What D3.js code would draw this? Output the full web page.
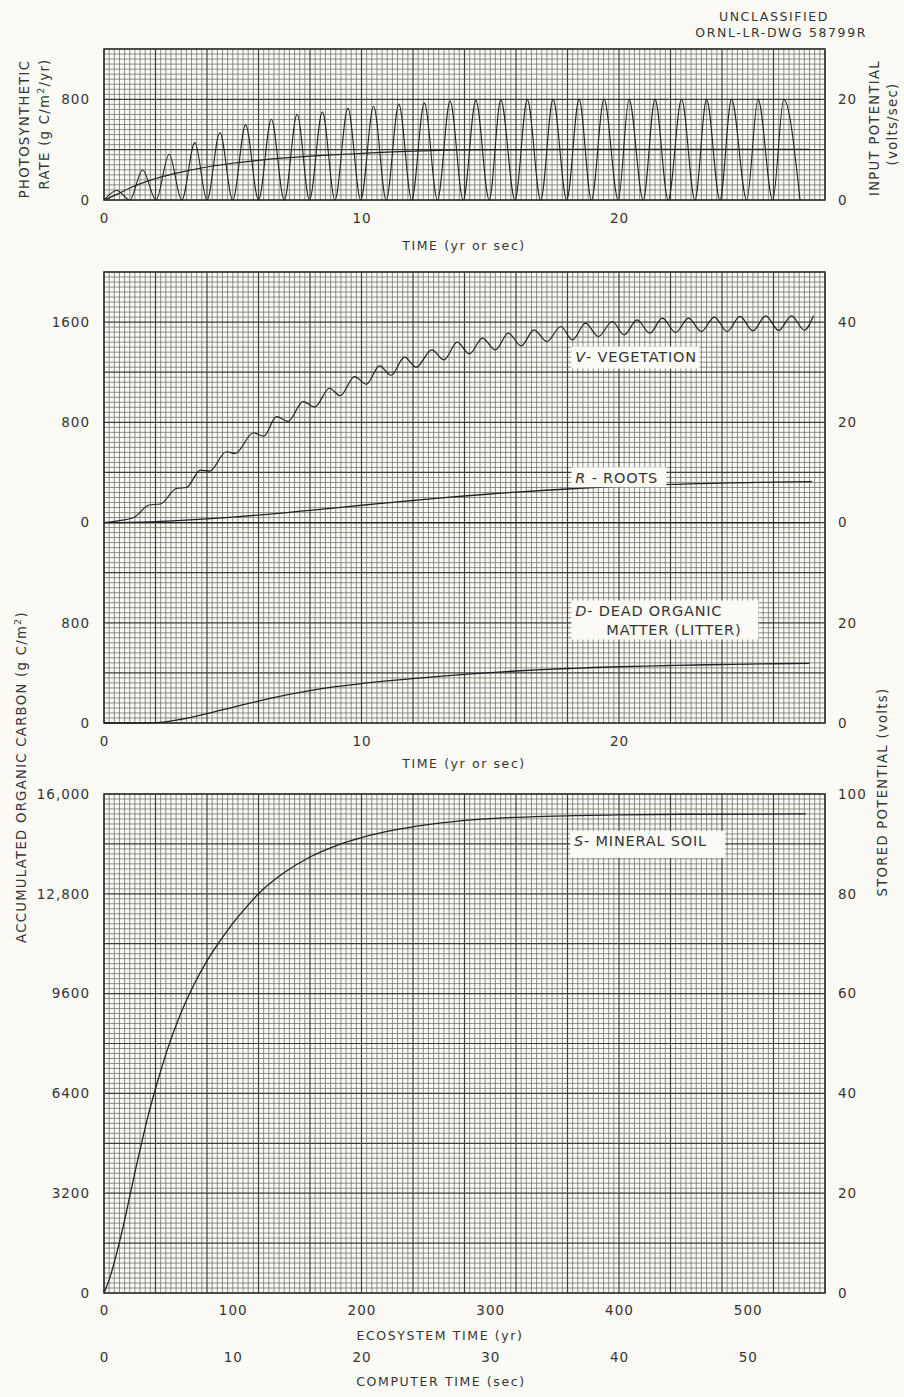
<!DOCTYPE html>
<html>
<head>
<meta charset="utf-8">
<script src="https://cdn.jsdelivr.net/npm/d3@7"></script>
<style>
  body { margin: 0; background: #fbfaf4; }
  svg text { font-family: "DejaVu Sans", sans-serif; fill: #353535; }
  .tick-labels text { font-size: 13.5px; letter-spacing: 1px; }
  .title { font-size: 12.5px; letter-spacing: 1.6px; }
  .side { font-size: 13.2px; letter-spacing: 1.3px; }
  .tag { font-size: 14.5px; letter-spacing: 0.8px; }
</style>
</head>
<body>
<svg width="904" height="1397"></svg>
<script>
// ---- data ----

// photosynthetic rate (g C/m2/yr): one peak and one trough each year
const photoPeakYear = [0.5, 1.5, 2.53, 3.53, 4.5, 5.5, 6.5, 7.5, 8.48, 9.47, 10.47, 11.45, 12.44, 13.44,
  14.44, 15.41, 16.44, 17.44, 18.45, 19.42, 20.39, 21.4, 22.43, 23.4, 24.37, 25.4, 26.4];
const photoPeakRate = [76, 239, 364, 456, 536, 597, 642, 682, 700, 730, 745, 762, 772, 786,
  792, 796, 798, 800, 800, 801, 800, 800, 801, 800, 800, 800, 800];
const photoTroughYear = [0, 1, 2.02, 3.02, 4, 5, 6, 7, 7.98, 8.97, 9.97, 10.96, 11.95, 12.95, 13.95,
  14.96, 15.96, 16.96, 17.97, 18.93, 19.97, 20.94, 21.91, 22.95, 23.92, 24.96, 25.97, 27.03];

// smooth (mean) input trace in the top panel
const meanYear = [0, 0.5, 1, 2, 3, 4, 5, 6, 7, 8, 9, 10, 11, 12, 13, 14, 16, 20, 27.4];
const meanRate = [0, 45, 95, 170, 222, 262, 292, 315, 334, 348, 360, 370, 380, 388, 395, 398, 401, 402, 402];

// V - vegetation (g C/m2)
const vegYear = [0, 0.6, 1.2, 1.75, 2.2, 2.8, 3.2, 3.75, 4.1, 4.75, 5.1, 5.8, 6.2, 6.7, 7.15, 7.73, 8.18,
  8.76, 9.17, 9.73, 10.19, 10.7, 11.15, 11.67, 12.12, 12.73, 13.2, 13.72, 14.19, 14.7, 15.2, 15.7,
  16.2, 16.7, 17.2, 17.74, 18.19, 18.7, 19.2, 19.74, 20.2, 20.7, 21.2, 21.68, 22.2, 22.7, 23.2,
  23.7, 24.2, 24.7, 25.2, 25.7, 26.2, 26.7, 27.2, 27.55];
const vegCarbon = [0, 15, 45, 140, 148, 272, 280, 418, 410, 565, 552, 717, 690, 845, 808, 965, 922,
  1072, 1012, 1165, 1104, 1250, 1176, 1320, 1240, 1378, 1298, 1440, 1346, 1472, 1378, 1512,
  1410, 1538, 1445, 1565, 1458, 1592, 1485, 1605, 1498, 1618, 1512, 1632, 1517, 1632, 1525,
  1640, 1525, 1645, 1530, 1650, 1533, 1650, 1535, 1650];

// R - roots
const rootYear = [0, 1, 2, 3, 4, 5, 6, 7, 8, 9, 10, 11, 12, 13, 14, 15, 16, 17, 18, 19, 20, 21, 22, 23, 24, 25, 26, 27.5];
const rootCarbon = [0, 2, 8, 18, 30, 44, 60, 78, 98, 118, 138, 157, 176, 195, 212, 228, 243, 256, 268, 279,
  289, 297, 304, 310, 315, 319, 322, 326];

// D - dead organic matter (litter)
const litterYear = [0, 1, 2, 3, 4, 5, 6, 7, 8, 9, 10, 11, 12, 13, 14, 15, 16, 17, 18, 19, 20, 21, 22, 23, 24, 25, 26, 27.4];
const litterCarbon = [0, 0, 3, 30, 75, 125, 175, 220, 258, 290, 315, 336, 355, 372, 388, 402, 415, 426, 435,
  443, 449, 454, 459, 463, 467, 470, 473, 476];

// S - mineral soil, ecosystem years
const soilYear = [0, 5, 10, 15, 20, 25, 30, 35, 40, 45, 50, 60, 70, 80, 90, 100, 110, 120, 140, 160, 180,
  200, 225, 250, 275, 300, 350, 400, 450, 545];
const soilCarbon = [0, 550, 1300, 2150, 3100, 4050, 4950, 5800, 6550, 7250, 7900, 9000, 9900, 10650, 11280,
  11850, 12350, 12800, 13480, 13980, 14340, 14600, 14840, 15010, 15130, 15210, 15290, 15330, 15350, 15360];

// zero reference traced in the middle panel
const zeroLineYear = [0, 27.4];

// tick labels
const photoTicks = [0, 800];
const photoVoltTicks = [0, 20];
const vegTicks = [0, 800, 1600];
const vegVoltTicks = [0, 20, 40];
const litterTicks = [0, 800];
const litterVoltTicks = [0, 20];
const timeTicks = [0, 10, 20];
const soilTicks = [0, 3200, 6400, 9600, 12800, 16000];
const soilVoltTicks = [0, 20, 40, 60, 80, 100];
const ecoYearTicks = [0, 100, 200, 300, 400, 500];
const computerSecTicks = [0, 10, 20, 30, 40, 50];

// ---- drawing ----
let svg = d3.select("svg");
const paper = "#fbfaf4";
const ink = "#222";

svg.append("rect").attr("width", 904).attr("height", 1397).attr("fill", paper);

// scales
let xTime = d3.scaleLinear().domain([0, 28]).range([104, 825]);
let yPhoto = d3.scaleLinear().domain([0, 1200]).range([200, 49]);
let yPhotoVolt = d3.scaleLinear().domain([0, 30]).range(yPhoto.range());

let yMidPaper = d3.scaleLinear().domain([0, 3600]).range([723, 272]);
let yVeg = d3.scaleLinear().domain([0, 2000]).range([yMidPaper(1600), 272]);
let yVegVolt = d3.scaleLinear().domain([0, 50]).range(yVeg.range());
let yLit = d3.scaleLinear().domain([0, 1600]).range([723, yMidPaper(1600)]);
let yLitVolt = d3.scaleLinear().domain([0, 40]).range(yLit.range());

let xEco = d3.scaleLinear().domain([0, 560]).range([104, 825]);
let xSec = d3.scaleLinear().domain([0, 56]).range([104, 825]);
let ySoil = d3.scaleLinear().domain([0, 16000]).range([1293, 794]);
let ySoilVolt = d3.scaleLinear().domain([0, 100]).range(ySoil.range());

// graph paper: nx by ny small cells, heavy line every 10
function graphPaper(x, y, nx, ny) {
  let g = svg.append("g");
  let [x0, x1] = x.domain(), [y0, y1] = y.domain();
  let vx = d3.range(nx + 1).map(i => ({v: x0 + i * (x1 - x0) / nx, major: i % 10 === 0}));
  let vy = d3.range(ny + 1).map(i => ({v: y0 + i * (y1 - y0) / ny, major: i % 10 === 0}));
  let [px0, px1] = x.range(), [py0, py1] = y.range();

  for (let major of [false, true]) {
    let col = major ? "#3e3e3b" : "#72726c";
    let w = major ? 1.2 : 0.8;
    g.selectAll(null).data(vx.filter(d => d.major === major)).join("line")
      .attr("x1", d => x(d.v)).attr("x2", d => x(d.v))
      .attr("y1", py0).attr("y2", py1)
      .attr("stroke", col).attr("stroke-width", w);
    g.selectAll(null).data(vy.filter(d => d.major === major)).join("line")
      .attr("y1", d => y(d.v)).attr("y2", d => y(d.v))
      .attr("x1", px0).attr("x2", px1)
      .attr("stroke", col).attr("stroke-width", w);
  }
  g.append("rect")
    .attr("x", px0).attr("y", py1)
    .attr("width", px1 - px0).attr("height", py0 - py1)
    .attr("fill", "none").attr("stroke", "#333331").attr("stroke-width", 1.5);
}

function tickLabels(axis, tx, ty) {
  let g = svg.append("g").attr("class", "tick-labels")
    .attr("transform", `translate(${tx},${ty})`)
    .call(axis);
  g.attr("font-size", null).attr("font-family", null);
  g.select(".domain").remove();
  g.selectAll(".tick line").remove();
  return g;
}

let curve = d3.line().curve(d3.curveMonotoneX);

function trace(points, x, y, width) {
  svg.append("path")
    .attr("d", curve.x(d => x(d[0])).y(d => y(d[1]))(points))
    .attr("fill", "none")
    .attr("stroke", ink)
    .attr("stroke-width", width || 1.3)
    .attr("stroke-linejoin", "round");
}

let zip = (a, b) => a.map((v, i) => [v, b[i]]);
let plain = d3.format("d");

// label box over the paper
function tag(x, y, lines, w, h) {
  let g = svg.append("g").attr("transform", `translate(${x},${y})`);
  g.append("rect").attr("x", 0).attr("y", 0).attr("width", w).attr("height", h).attr("fill", paper);
  lines.forEach((ln, i) => {
    let t = g.append("text").attr("class", "tag").attr("x", ln.dx).attr("y", 15.5 + i * 18.5);
    if (ln.letter) t.append("tspan").attr("font-style", "italic").text(ln.letter);
    t.append("tspan").text(ln.text);
  });
}

// rotated axis title, optional superscript piece
function sideTitle(x, y, parts) {
  let t = svg.append("text").attr("class", "side")
    .attr("transform", `translate(${x},${y}) rotate(-90)`)
    .attr("text-anchor", "middle");
  parts.forEach(p => {
    if (p.sup) {
      t.append("tspan").attr("dy", -5).attr("font-size", "9.5px").text(p.sup);
      t.append("tspan").attr("dy", 5).text(p.after);
    } else {
      t.append("tspan").text(p.text);
    }
  });
}

// ---------- top panel ----------
graphPaper(xTime, yPhoto, 140, 30);

let photoPoints = zip(photoTroughYear, photoTroughYear.map(() => 0))
  .concat(zip(photoPeakYear, photoPeakRate))
  .sort((a, b) => a[0] - b[0]);
trace(photoPoints, xTime, yPhoto, 1.1);
trace(zip(meanYear, meanRate), xTime, yPhoto, 1.2);

tickLabels(d3.axisLeft(yPhoto).tickValues(photoTicks).tickFormat(plain).tickSize(0).tickPadding(14), 104, 0);
tickLabels(d3.axisRight(yPhotoVolt).tickValues(photoVoltTicks).tickSize(0).tickPadding(13), 825, 0);
tickLabels(d3.axisBottom(xTime).tickValues(timeTicks).tickSize(0).tickPadding(13), 0, 200);

svg.append("text").attr("class", "title").attr("x", 464).attr("y", 250)
  .attr("text-anchor", "middle").text("TIME (yr or sec)");

sideTitle(29, 129, [{text: "PHOTOSYNTHETIC"}]);
sideTitle(49, 124, [{text: "RATE (g C/m"}, {sup: "2", after: "/yr)"}]);
sideTitle(879, 128, [{text: "INPUT POTENTIAL"}]);
sideTitle(897, 124, [{text: "(volts/sec)"}]);

svg.append("text").attr("class", "title").attr("x", 774).attr("y", 20.5)
  .attr("text-anchor", "middle").text("UNCLASSIFIED");
svg.append("text").attr("class", "title").attr("x", 867).attr("y", 36.5)
  .attr("text-anchor", "end").text("ORNL-LR-DWG 58799R");

// ---------- middle panel ----------
graphPaper(xTime, yMidPaper, 140, 90);

trace(zip(zeroLineYear, zeroLineYear.map(() => 0)), xTime, yVeg, 1.3);
trace(zip(vegYear, vegCarbon), xTime, yVeg, 1.2);
trace(zip(rootYear, rootCarbon), xTime, yVeg, 1.3);
trace(zip(litterYear, litterCarbon), xTime, yLit, 1.3);

tickLabels(d3.axisLeft(yVeg).tickValues(vegTicks).tickFormat(plain).tickSize(0).tickPadding(14), 104, 0);
tickLabels(d3.axisLeft(yLit).tickValues(litterTicks).tickFormat(plain).tickSize(0).tickPadding(14), 104, 0);
tickLabels(d3.axisRight(yVegVolt).tickValues(vegVoltTicks).tickSize(0).tickPadding(13), 825, 0);
tickLabels(d3.axisRight(yLitVolt).tickValues(litterVoltTicks).tickSize(0).tickPadding(13), 825, 0);
tickLabels(d3.axisBottom(xTime).tickValues(timeTicks).tickSize(0).tickPadding(13), 0, 723);

svg.append("text").attr("class", "title").attr("x", 464).attr("y", 768)
  .attr("text-anchor", "middle").text("TIME (yr or sec)");

tag(xTime(18.15), yVeg(1317) - 11, [{letter: "V", text: "- VEGETATION", dx: 4}], 128, 22);
tag(xTime(18.15), yVeg(362) - 10, [{letter: "R", text: " - ROOTS", dx: 4}], 95, 20);
tag(xTime(18.15), yLit(826) - 19, [{letter: "D", text: "- DEAD ORGANIC", dx: 4},
  {text: "MATTER (LITTER)", dx: 35}], 187, 39);

// ---------- bottom panel ----------
graphPaper(xEco, ySoil, 140, 100);

trace(zip(soilYear, soilCarbon), xEco, ySoil, 1.3);

let soilFmt = d => d >= 10000 ? d3.format(",")(d) : String(d);
tickLabels(d3.axisLeft(ySoil).tickValues(soilTicks).tickFormat(soilFmt).tickSize(0).tickPadding(14), 104, 0);
tickLabels(d3.axisRight(ySoilVolt).tickValues(soilVoltTicks).tickSize(0).tickPadding(13), 825, 0);
tickLabels(d3.axisBottom(xEco).tickValues(ecoYearTicks).tickSize(0).tickPadding(12), 0, 1293);
tickLabels(d3.axisBottom(xSec).tickValues(computerSecTicks).tickSize(0).tickPadding(12), 0, 1340);

svg.append("text").attr("class", "title").attr("x", 440).attr("y", 1340)
  .attr("text-anchor", "middle").text("ECOSYSTEM TIME (yr)");
svg.append("text").attr("class", "title").attr("x", 441).attr("y", 1386)
  .attr("text-anchor", "middle").text("COMPUTER TIME (sec)");

tag(xEco(362), ySoil(14400) - 13, [{letter: "S", text: "- MINERAL SOIL", dx: 4}], 155, 27);

sideTitle(26, 777, [{text: "ACCUMULATED ORGANIC CARBON (g C/m"}, {sup: "2", after: ")"}]);
sideTitle(887, 792, [{text: "STORED POTENTIAL (volts)"}]);
</script>
</body>
</html>
